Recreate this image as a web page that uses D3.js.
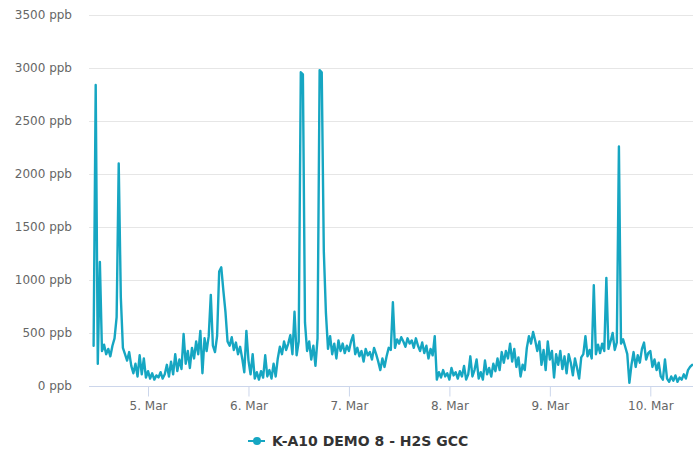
<!DOCTYPE html>
<html>
<head>
<meta charset="utf-8">
<script src="https://cdn.jsdelivr.net/npm/d3@7"></script>
<style>
  html, body { margin: 0; padding: 0; background: #fff; }
  svg { display: block; font-family: "DejaVu Sans", Verdana, sans-serif; }
</style>
</head>
<body>
<svg id="chart" width="693" height="449"></svg>
<script>
// H2S concentration (ppb), sampled every 30 minutes from 4 Mar 11:00
const seriesName = "K-A10 DEMO 8 - H2S GCC";
const seriesStart = Date.UTC(2019, 2, 4, 11, 0);
const stepMinutes = 30;
const h2sValues = [
  // 4 Mar
  380, 2840, 210, 1170, 330, 390, 300, 350, 280, 380, 450, 650, 2100, 840, 360, 300,
  240, 320, 190, 120, 210, 90, 290, 110, 260, 80,
  // 5 Mar
  140, 70, 120, 60, 100, 80, 130, 70, 110, 200, 90, 230, 110, 300, 140, 250,
  160, 490, 210, 330, 170, 360, 260, 420, 300, 520, 120, 450, 330, 470, 860, 380,
  320, 470, 1080, 1120, 900, 700, 420, 380, 460, 340, 410, 300, 370, 260, 130, 520,
  // 6 Mar
  240, 110, 300, 70, 130, 60, 140, 80, 290, 90, 150, 70, 210, 90, 260, 370,
  300, 420, 340, 400, 480, 300, 700, 290, 420, 2960, 2940, 600, 330, 420, 250, 380,
  190, 450, 2980, 2960, 1270, 690, 350, 470, 300, 400, 260, 430, 330, 400, 310, 380,
  // 7 Mar
  330, 420, 480, 300, 360, 280, 330, 230, 350, 290, 320, 250, 360, 300, 230, 150,
  260, 180, 280, 360, 340, 790, 360, 440, 400, 460, 420, 370, 450, 400, 430, 360,
  450, 380, 330, 410, 310, 380, 260, 350, 290, 470, 60, 130, 80, 150, 90, 120,
  // 8 Mar
  60, 170, 100, 130, 70, 140, 90, 190, 60, 110, 280, 90, 150, 250, 70, 130,
  60, 240, 110, 170, 90, 210, 140, 260, 150, 320, 220, 330, 260, 400, 230, 350,
  180, 270, 90, 200, 150, 360, 470, 400, 510, 430, 330, 420, 200, 340, 150, 420,
  // 9 Mar
  250, 330, 80, 300, 200, 330, 160, 280, 120, 300, 220, 100, 260, 170, 70, 270,
  300, 470, 280, 340, 260, 950, 300, 390, 310, 400, 330, 1020, 350, 420, 500, 340,
  410, 2260, 400, 440, 370, 300, 30, 200, 320, 180, 290, 220, 350, 410, 250, 310,
  // 10 Mar
  330, 180, 250, 150, 220, 90, 60, 250, 70, 40, 90, 50, 100, 40, 80, 60,
  110, 70, 150, 180, 200
];
const yTicks = [0, 500, 1000, 1500, 2000, 2500, 3000, 3500];
const xTickDays = [5, 6, 7, 8, 9, 10];
const unitLabel = "ppb";

const data = h2sValues.map((v, i) => ({
  t: new Date(seriesStart + i * stepMinutes * 60000),
  v
}));

const svg = d3.select("#chart");
const plot = { left: 89, right: 693, top: 15, bottom: 386 };

const x = d3.scaleUtc()
  .domain([new Date(Date.UTC(2019, 2, 4, 9, 54)), new Date(Date.UTC(2019, 2, 10, 10, 12))])
  .range([plot.left, plot.right]);
const y = d3.scaleLinear()
  .domain([0, 3500])
  .range([plot.bottom, plot.top]);

// horizontal grid
svg.append("g")
  .selectAll("line")
  .data(yTicks.filter(d => d > 0))
  .join("line")
  .attr("x1", plot.left).attr("x2", plot.right)
  .attr("y1", d => Math.round(y(d)) + 0.5).attr("y2", d => Math.round(y(d)) + 0.5)
  .attr("stroke", "#e6e6e6").attr("stroke-width", 1);

// y axis labels
const yAxis = d3.axisLeft(y)
  .tickValues(yTicks)
  .tickSize(0)
  .tickPadding(0)
  .tickFormat(d => `${d} ${unitLabel}`);
const gy = svg.append("g").attr("transform", `translate(72,0)`).call(yAxis);
gy.select(".domain").remove();
gy.selectAll("text")
  .attr("fill", "#666")
  .style("font-size", "12px")
  .style("font-family", "'DejaVu Sans', Verdana, sans-serif");

// x axis
const xAxis = d3.axisBottom(x)
  .tickValues(xTickDays.map(d => new Date(Date.UTC(2019, 2, d))))
  .tickSize(10)
  .tickPadding(5)
  .tickFormat(d3.utcFormat("%-d. %b"));
const gx = svg.append("g").attr("transform", `translate(0,${plot.bottom + 0.5})`).call(xAxis);
gx.select(".domain").attr("stroke", "#ccd6eb").attr("d", `M${plot.left},0H${plot.right}`);
gx.selectAll(".tick line").attr("stroke", "#ccd6eb");
gx.selectAll("text")
  .attr("fill", "#666")
  .style("font-size", "12px")
  .style("font-family", "'DejaVu Sans', Verdana, sans-serif");

// series line
const lineColor = "#16a6c2";
const line = d3.line()
  .x(d => x(d.t))
  .y(d => y(d.v));
svg.append("path")
  .datum(data)
  .attr("d", line)
  .attr("fill", "none")
  .attr("stroke", lineColor)
  .attr("stroke-width", 2.4)
  .attr("stroke-linejoin", "round")
  .attr("stroke-linecap", "round");

// legend
const legend = svg.append("g").attr("transform", "translate(257,441)");
legend.append("line")
  .attr("x1", -9).attr("x2", 8).attr("y1", 0).attr("y2", 0)
  .attr("stroke", lineColor).attr("stroke-width", 2);
legend.append("circle")
  .attr("r", 4).attr("fill", lineColor);
legend.append("text")
  .attr("x", 15).attr("dy", "0.35em")
  .attr("fill", "#333")
  .style("font-size", "14px")
  .style("font-weight", "bold")
  .text(seriesName);
</script>
</body>
</html>
